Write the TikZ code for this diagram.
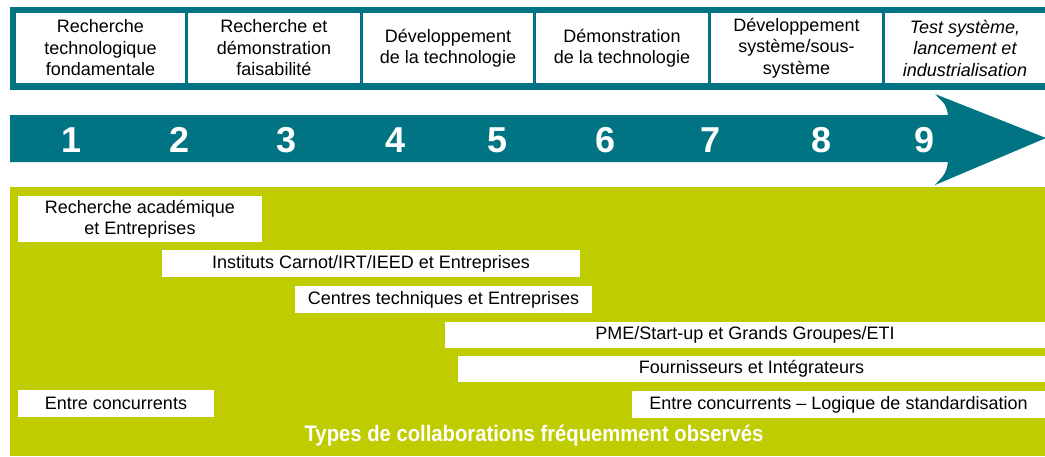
\documentclass[tikz,border=0pt]{standalone}
\usepackage{fontspec}
\setmainfont{Liberation Sans}
\newfontfamily\narrowbold[FakeStretch=0.9]{Liberation Sans Bold}
\usepackage{xcolor}
\usetikzlibrary{positioning}

\definecolor{trlteal}{RGB}{0,116,130}
\definecolor{trlgreen}{RGB}{190,204,0}

\begin{document}
\begin{tikzpicture}[x=1pt,y=-1pt,font=\fontsize{18}{21.5}\selectfont,
  phase/.style={fill=white,inner sep=0pt,align=center,minimum height=70pt},
  num/.style={text=white,font=\fontsize{36}{36}\selectfont\bfseries},
  collab/.style={fill=white,inner sep=0pt,align=center}]
  \useasboundingbox (0,0) rectangle (1045,456);
  % header of phases
  \fill[trlteal] (10,7) rectangle (1045,90);
  \node[phase,minimum width=169pt] (p1) at (100.5,48) {Recherche\\technologique\\fondamentale};
  \node[phase,minimum width=172pt] (p2) at (274,48) {Recherche et\\démonstration\\faisabilité};
  \node[phase,minimum width=170pt] (p3) at (448,48) {Développement\\de la technologie};
  \node[phase,minimum width=172pt] (p4) at (622,48) {Démonstration\\de la technologie};
  \node[phase,minimum width=171pt] (p5) at (796.5,48) {Développement\\système/sous-\\système};
  \node[phase,minimum width=160pt] (p6) at (965,48) {\itshape Test système,\\\itshape lancement et\\\itshape industrialisation};
  % TRL arrow
  \fill[trlteal] (10,115) -- (948,115) .. controls (946,105) .. (935,94)
    -- (1046,138) -- (935,185) .. controls (946,173) .. (948,162) -- (10,162) -- cycle;
  \node[num] (n1) at (72,140) {1};
  \node[num] (n2) at (180,140) {2};
  \node[num] (n3) at (287,140) {3};
  \node[num] (n4) at (396,140) {4};
  \node[num] (n5) at (498,140) {5};
  \node[num] (n6) at (606,140) {6};
  \node[num] (n7) at (711,140) {7};
  \node[num] (n8) at (822,140) {8};
  \node[num] (n9) at (925,140) {9};
  % collaborations
  \fill[trlgreen] (10,187) rectangle (1045,456);
  \node[collab,minimum width=244pt,minimum height=46pt] (c1) at (140,219) {Recherche académique\\et Entreprises};
  \node[collab,minimum width=418pt,minimum height=27pt] (c2) at (371,263.5) {Instituts Carnot/IRT/IEED et Entreprises};
  \node[collab,minimum width=297pt,minimum height=27pt] (c3) at (443.5,299.5) {Centres techniques et Entreprises};
  \node[collab,minimum width=600pt,minimum height=26pt] (c4) at (745,335) {PME/Start-up et Grands Groupes/ETI};
  \node[collab,minimum width=587pt,minimum height=26pt] (c5) at (751.5,369) {Fournisseurs et Intégrateurs};
  \node[collab,minimum width=196pt,minimum height=27pt] (c6) at (116,403.5) {Entre concurrents};
  \node[collab,minimum width=413pt,minimum height=27pt] (c7) at (838.5,404.5) {Entre concurrents – Logique de standardisation};
  \node[text=white,font=\fontsize{22.5}{23}\narrowbold] (title) at (534,436) {Types de collaborations fréquemment observés};
\end{tikzpicture}
\end{document}
